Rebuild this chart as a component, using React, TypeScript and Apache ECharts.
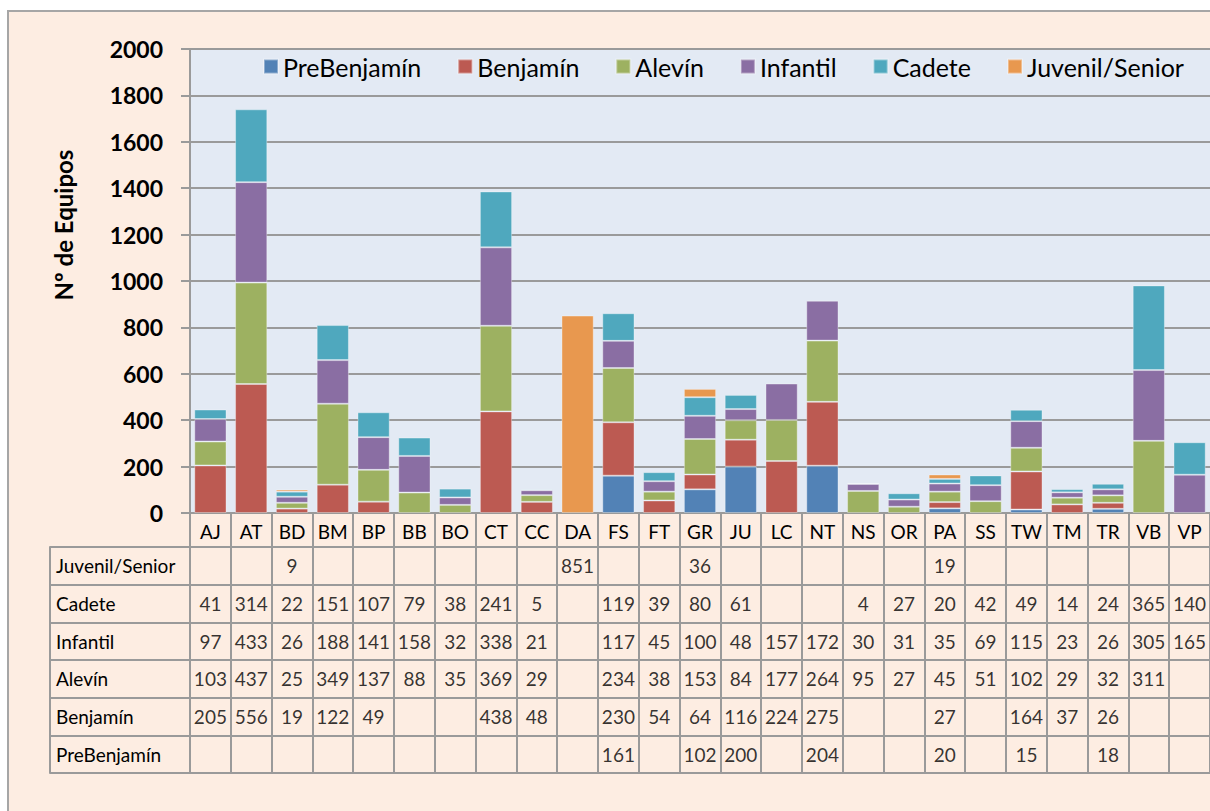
import React, { useEffect, useRef } from "react";
import * as echarts from "echarts";

const categories = ["AJ","AT","BD","BM","BP","BB","BO","CT","CC","DA","FS","FT","GR","JU","LC","NT","NS","OR","PA","SS","TW","TM","TR","VB","VP"];
const seriesNames = ["PreBenjamín","Benjamín","Alevín","Infantil","Cadete","Juvenil/Senior"];
const colors = ["#5282b6","#bc5a52","#9db161","#8a6ea3","#4fa8be","#e8984f"];

const preBenjamin = [null,null,null,null,null,null,null,null,null,null,161,null,102,200,null,204,null,null,20,null,15,null,18,null,null];
const benjamin = [205,556,19,122,49,null,null,438,48,null,230,54,64,116,224,275,null,null,27,null,164,37,26,null,null];
const alevin = [103,437,25,349,137,88,35,369,29,null,234,38,153,84,177,264,95,27,45,51,102,29,32,311,null];
const infantil = [97,433,26,188,141,158,32,338,21,null,117,45,100,48,157,172,30,31,35,69,115,23,26,305,165];
const cadete = [41,314,22,151,107,79,38,241,5,null,119,39,80,61,null,null,4,27,20,42,49,14,24,365,140];
const juvenil = [null,null,9,null,null,null,null,null,null,851,null,null,36,null,null,null,null,null,19,null,null,null,null,null,null];

const yTicks = { min: 0, max: 2000, interval: 200 };
const tableRows = ["Juvenil/Senior","Cadete","Infantil","Alevín","Benjamín","PreBenjamín"];

export default function App() {
  const ref = useRef<HTMLDivElement>(null);
  useEffect(() => {
    if (!ref.current) return;
    const chart = echarts.init(ref.current, null, { renderer: "svg" });
    const values = [preBenjamin, benjamin, alevin, infantil, cadete, juvenil];
    const rowData: Record<string, (number | null)[]> = {
      "Juvenil/Senior": juvenil,
      "Cadete": cadete,
      "Infantil": infantil,
      "Alevín": alevin,
      "Benjamín": benjamin,
      "PreBenjamín": preBenjamin,
    };
    const tableData: any[] = [];
    tableRows.forEach((r, ri) => {
      rowData[r].forEach((v, ci) => {
        if (v !== null) tableData.push([ci, ri, v]);
      });
    });
    const font = "Lato, 'Open Sans', sans-serif";
    const grey = "#9a9a9a";
    const barSeries = seriesNames.map((name, i) => ({
      name,
      type: "bar",
      stack: "total",
      xAxisIndex: 0,
      yAxisIndex: 0,
      barCategoryGap: "21%",
      itemStyle: { color: colors[i], borderColor: "rgba(255,255,255,0.35)", borderWidth: 1 },
      data: values[i].map((v) => (v === null ? "-" : v)),
    }));
    chart.setOption({
      animation: false,
      backgroundColor: "transparent",
      textStyle: { fontFamily: font },
      legend: {
        left: 258,
        top: 49,
        itemWidth: 14,
        itemHeight: 14,
        itemGap: 36,
        icon: "rect",
        data: seriesNames,
        textStyle: { fontSize: 25, color: "#000", fontFamily: font },
      },
      grid: [
        { left: 190, top: 49, width: 1021, height: 464, show: true, backgroundColor: "#e3eaf4", borderWidth: 0 },
        { left: 190, top: 547, width: 1021, height: 226, show: true, backgroundColor: "transparent", borderColor: grey, borderWidth: 2 },
      ],
      xAxis: [
        {
          type: "category",
          gridIndex: 0,
          data: categories,
          axisLine: { show: true, lineStyle: { color: grey, width: 2 } },
          axisTick: { show: true, interval: 0, length: 34, lineStyle: { color: grey, width: 2 } },
          axisLabel: { interval: 0, margin: 9, fontSize: 19, color: "#000", fontFamily: font },
        },
        {
          type: "category",
          gridIndex: 1,
          data: categories,
          axisLine: { show: false },
          axisTick: { show: false },
          axisLabel: { show: false },
          splitLine: { show: true, interval: 0, lineStyle: { color: grey, width: 2 } },
        },
      ],
      yAxis: [
        {
          type: "value",
          gridIndex: 0,
          min: yTicks.min,
          max: yTicks.max,
          interval: yTicks.interval,
          axisLine: { show: true, lineStyle: { color: grey, width: 2 } },
          axisTick: { show: true, length: 9, lineStyle: { color: grey, width: 2 } },
          axisLabel: {
            margin: 27,
            fontSize: 23,
            fontWeight: "bold",
            color: "#000",
            fontFamily: font,
            formatter: (v: number) => String(v),
          },
          splitLine: { show: true, lineStyle: { color: grey, width: 2 } },
        },
        {
          type: "category",
          gridIndex: 1,
          data: tableRows,
          inverse: true,
          axisLine: { show: true, lineStyle: { color: grey, width: 2 } },
          axisTick: { show: true, interval: 0, length: 140, lineStyle: { color: grey, width: 2 } },
          axisLabel: { interval: 0, align: "left", margin: 134, fontSize: 19, color: "#000", fontFamily: font },
          splitLine: { show: true, interval: 0, lineStyle: { color: grey, width: 2 } },
        },
        {
          type: "category",
          gridIndex: 1,
          data: tableRows,
          inverse: true,
          position: "left",
          offset: 140,
          axisLine: { show: true, lineStyle: { color: grey, width: 2 } },
          axisTick: { show: false },
          axisLabel: { show: false },
          splitLine: { show: false },
        },
      ],
      graphic: [
        {
          type: "text",
          x: 63,
          y: 225,
          rotation: Math.PI / 2,
          style: {
            text: "Nº de Equipos",
            fontSize: 24,
            fontWeight: "bold",
            fontFamily: font,
            fill: "#000",
            textAlign: "center",
            textVerticalAlign: "middle",
          },
        },
      ],
      series: [
        ...barSeries,
        {
          type: "scatter",
          xAxisIndex: 1,
          yAxisIndex: 1,
          symbolSize: 0,
          silent: true,
          data: tableData,
          label: {
            show: true,
            position: "inside",
            formatter: (p: any) => String(p.value[2]),
            fontSize: 19,
            color: "#000",
            fontFamily: font,
          },
        },
      ],
    });
    return () => chart.dispose();
  }, []);
  return (
    <div style={{ position: "fixed", left: 0, top: 0, width: 1210, height: 811, background: "#fff", overflow: "hidden" }}>
      <div
        style={{
          position: "absolute",
          left: 7,
          top: 10,
          width: 1300,
          height: 900,
          background: "#fdede2",
          border: "2px solid #a6a6a6",
        }}
      />
      <div ref={ref} style={{ position: "absolute", left: 0, top: 0, width: 1210, height: 811 }} />
    </div>
  );
}
